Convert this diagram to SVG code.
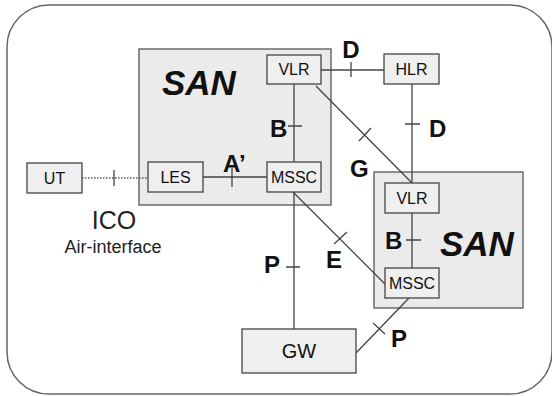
<svg xmlns="http://www.w3.org/2000/svg" width="552" height="396" viewBox="0 0 552 396">
<style>
.frame{fill:#fff;stroke:#666;stroke-width:1.5}
.san{fill:#ebebeb;stroke:#555;stroke-width:1.3}
.box{fill:#efefef;stroke:#444;stroke-width:1.3}
.ln{stroke:#444;stroke-width:1.3;fill:none}
.dot{stroke:#555;stroke-width:1.3;stroke-dasharray:1.5 1.5;fill:none}
.bt{font-family:"Liberation Sans",Arial,sans-serif;font-size:16px;fill:#111;text-anchor:middle}
.lb{font-family:"Liberation Sans",Arial,sans-serif;font-size:24px;font-weight:bold;fill:#111}
.sn{font-family:"Liberation Sans",Arial,sans-serif;font-size:35px;font-weight:bold;font-style:italic;fill:#111}
.ico{font-family:"Liberation Sans",Arial,sans-serif;fill:#222;text-anchor:middle}
</style>
<rect width="552" height="396" fill="#fff"/>
<rect class="frame" x="7" y="5" width="545" height="389" rx="42" ry="42"/>
<g id="san1"><rect class="san" x="139" y="49" width="192" height="156"/><text class="sn" x="162" y="95">SAN</text></g>
<g id="san2"><rect class="san" x="374" y="172" width="149" height="136"/><text class="sn" x="440" y="256">SAN</text></g>
<g id="connectors">
<path class="dot" d="M82,178 H148"/><path class="ln" d="M114,170 V186"/>
<path class="ln" d="M203,177 H267 M232,168 V187"/>
<path class="ln" d="M321,70 H384 M351,62 V77"/>
<path class="ln" d="M294,84 V162 M288,126 H302"/>
<path class="ln" d="M412,84 V183 M405,124 H420"/>
<path class="ln" d="M316,86 L412,183 M359,141 L371,128"/>
<path class="ln" d="M293,192 L385,284 M334,244 L347,232"/>
<path class="ln" d="M294,192 V329 M286,267 H300"/>
<path class="ln" d="M412,213 V268 M406,240 H421"/>
<path class="ln" d="M356,353 L409,298 M373,323 L385,334"/>
</g>
<g id="ut"><rect class="box" x="27" y="163" width="55" height="30"/><text class="bt" x="54.5" y="184">UT</text></g>
<g id="les"><rect class="box" x="148" y="162" width="55" height="30"/><text class="bt" x="175.5" y="183">LES</text></g>
<g id="vlr1"><rect class="box" x="267" y="55" width="54" height="29"/><text class="bt" x="294" y="75">VLR</text></g>
<g id="hlr"><rect class="box" x="384" y="54" width="55" height="30"/><text class="bt" x="411.5" y="75">HLR</text></g>
<g id="mssc1"><rect class="box" x="267" y="162" width="54" height="30"/><text class="bt" x="294" y="183">MSSC</text></g>
<g id="vlr2"><rect class="box" x="385" y="183" width="54" height="30"/><text class="bt" x="412" y="204">VLR</text></g>
<g id="mssc2"><rect class="box" x="385" y="268" width="54" height="30"/><text class="bt" x="412" y="289">MSSC</text></g>
<g id="gw"><rect class="box" x="242" y="329" width="114" height="44"/><text class="bt" x="299" y="358" style="font-size:20px">GW</text></g>
<g id="labels">
<text class="lb" x="351" y="58" text-anchor="middle">D</text>
<text class="lb" x="429" y="137">D</text>
<text class="lb" x="270" y="137">B</text>
<text class="lb" x="385" y="249">B</text>
<text class="lb" x="223" y="172">A’</text>
<text class="lb" x="350" y="177">G</text>
<text class="lb" x="326" y="268">E</text>
<text class="lb" x="264" y="273">P</text>
<text class="lb" x="391" y="347">P</text>
<text class="ico" x="114" y="229" style="font-size:25px">ICO</text>
<text class="ico" x="113" y="253" style="font-size:18px">Air-interface</text>
</g>
</svg>
